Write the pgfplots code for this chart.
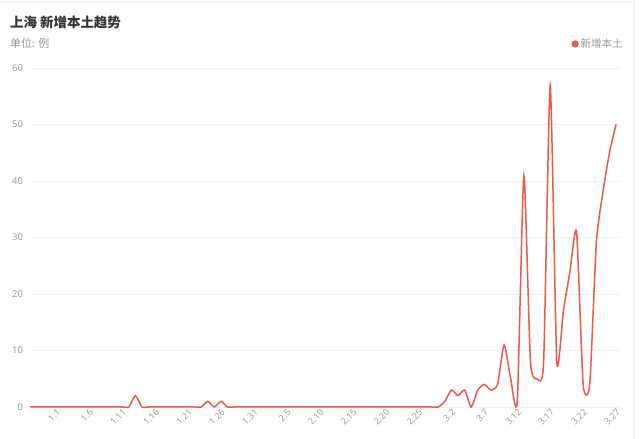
\documentclass[border=0pt]{standalone}
\usepackage{fontspec}
\setmainfont{Noto Sans CJK SC}
\newfontfamily\tickfont{Open Sans}
\usepackage{pgfplots}
\pgfplotsset{compat=1.18}
\definecolor{linered}{RGB}{238,90,72}
\definecolor{txtgray}{RGB}{150,150,150}
\definecolor{titlegray}{RGB}{51,51,51}
\definecolor{gridgray}{RGB}{242,242,242}
\begin{document}
\begin{tikzpicture}[x=1bp,y=1bp]
\path[use as bounding box, fill=white] (0,0) rectangle (640,439);
\draw[color=gray!10, line width=1.5bp] (0,437) -- (634,437) -- (634,0);
\node[anchor=west, font=\bfseries\fontsize{13.5}{16}\selectfont, text=titlegray, inner sep=0] at (10,417) {上海 新增本土趋势};
\node[anchor=west, font=\fontsize{11}{13}\selectfont, text=txtgray, inner sep=0] at (10,396) {单位: 例};
\begin{axis}[
	at={(30bp,32bp)}, anchor=south west,
	scale only axis,
	width=590bp, height=339bp,
	xmin=0, xmax=89.6,
	ymin=0, ymax=60,
	clip=false,
	axis line style={draw=none},
	major tick length=0pt,
	ymajorgrids,
	grid style={gridgray, line width=0.8bp},
	ytick={0,10,...,60},
	xtick={4,9,...,89},
	xticklabels={1.1,1.6,1.11,1.16,1.21,1.26,1.31,2.5,2.10,2.15,2.20,2.25,3.2,3.7,3.12,3.17,3.22,3.27},
	/pgf/number format/assume math mode=true,
	yticklabel style={font=\tickfont\fontsize{9.5}{11}\selectfont, text=txtgray, xshift=-3.5bp},
	xticklabel style={font=\tickfont\fontsize{9}{10}\selectfont, text=txtgray, rotate=45, anchor=north east, inner sep=1bp},
	legend style={draw=none, fill=none, at={(1.008,1.071)}, anchor=east,
		font=\fontsize{10.5}{12}\selectfont, text=txtgray, inner sep=0pt},
	legend image code/.code={\fill[linered] (-0.15em,0) circle (2.8bp);},
]
\addplot[smooth, tension=0.35, linered, line width=1.5bp] table {
x y
0 0
1 0
2 0
3 0
4 0
5 0
6 0
7 0
8 0
9 0
10 0
11 0
12 0
13 0
14 0
15 0
16 2
17 0
18 0
19 0
20 0
21 0
22 0
23 0
24 0
25 0
26 0
27 1
28 0
29 1
30 0
31 0
32 0
33 0
34 0
35 0
36 0
37 0
38 0
39 0
40 0
41 0
42 0
43 0
44 0
45 0
46 0
47 0
48 0
49 0
50 0
51 0
52 0
53 0
54 0
55 0
56 0
57 0
58 0
59 0
60 0
61 0
62 0
63 1
64 3
65 2
66 3
67 0
68 3
69 4
70 3
71 4
72 11
73 5
74 1
75 41
76 8
77 5
78 8
79 57
80 8
81 17
82 24
83 31
84 4
85 4
86 29
87 38
88 45
89 50
};
\addlegendentry{新增本土}
\end{axis}
\end{tikzpicture}
\end{document}
